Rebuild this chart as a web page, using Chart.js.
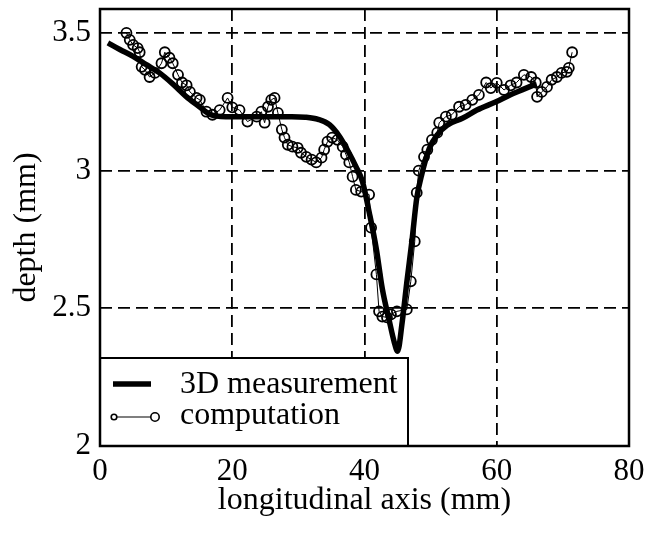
<!DOCTYPE html>
<html>
<head>
<meta charset="utf-8">
<script src="https://cdn.jsdelivr.net/npm/chart.js@4"></script>
<style>
  html, body { margin: 0; padding: 0; background: #fff; }
  #wrap { width: 645px; height: 536px; }
</style>
</head>
<body>
<div id="wrap"><canvas id="c" width="645" height="536"></canvas></div>
<script>
// ---- data ----
const measX = [1.2, 3, 5, 7, 9, 11, 13, 14.6, 16.6, 19, 22, 26, 29, 31, 33, 34.7, 36.2, 37.4, 38.8, 39.7, 40.7, 41.8, 42.7, 43.7, 44.5, 45, 45.7, 46.4, 47.2, 47.9, 48.7, 49.8, 51, 52.5, 54.8, 57, 59.9, 62, 64, 66];
const measY = [3.464, 3.44, 3.415, 3.385, 3.355, 3.315, 3.27, 3.24, 3.205, 3.196, 3.196, 3.196, 3.196, 3.194, 3.186, 3.167, 3.125, 3.076, 3.01, 2.96, 2.85, 2.714, 2.57, 2.46, 2.377, 2.344, 2.45, 2.594, 2.75, 2.9, 2.99, 3.08, 3.13, 3.165, 3.19, 3.22, 3.25, 3.275, 3.295, 3.315];

const compX = [4.0, 4.5, 5.0, 5.7, 6.0, 6.3, 6.8, 7.5, 8.3, 9.3, 9.8, 10.5, 11.0, 11.8, 12.4, 13.1, 13.6, 14.6, 15.1, 16.1, 17.0, 18.1, 19.3, 20.0, 21.1, 22.3, 23.7, 24.4, 24.9, 25.4, 25.9, 26.4, 26.9, 27.5, 27.9, 28.4, 29.1, 29.9, 30.4, 31.2, 32.0, 32.7, 33.5, 33.9, 34.4, 35.1, 35.9, 36.7, 37.2, 37.7, 38.2, 38.7, 39.5, 40.7, 41.0, 41.8, 42.2, 42.7, 43.4, 44.0, 44.9, 46.4, 47.0, 47.6, 47.9, 48.2, 49.0, 49.5, 50.2, 51.0, 51.3, 52.3, 53.2, 54.3, 55.3, 56.3, 57.3, 58.4, 59.1, 60.0, 61.1, 62.1, 63.0, 64.1, 65.2, 65.9, 66.1, 66.8, 67.6, 68.3, 69.1, 69.8, 70.6, 70.9, 71.4];
const compY = [3.50, 3.475, 3.457, 3.445, 3.43, 3.377, 3.366, 3.34, 3.355, 3.39, 3.43, 3.41, 3.39, 3.348, 3.32, 3.31, 3.286, 3.264, 3.257, 3.214, 3.203, 3.22, 3.264, 3.23, 3.22, 3.178, 3.196, 3.214, 3.174, 3.232, 3.257, 3.264, 3.21, 3.149, 3.12, 3.094, 3.087, 3.083, 3.065, 3.05, 3.04, 3.03, 3.047, 3.076, 3.105, 3.12, 3.112, 3.087, 3.058, 3.03, 2.978, 2.93, 2.924, 2.913, 2.793, 2.623, 2.489, 2.47, 2.467, 2.478, 2.489, 2.496, 2.598, 2.743, 2.92, 3.0, 3.05, 3.076, 3.112, 3.138, 3.174, 3.196, 3.203, 3.232, 3.239, 3.257, 3.275, 3.32, 3.30, 3.319, 3.293, 3.31, 3.32, 3.348, 3.34, 3.32, 3.268, 3.286, 3.304, 3.33, 3.34, 3.355, 3.359, 3.373, 3.43];

const xTicks = [0, 20, 40, 60, 80];
const yTicks = [2, 2.5, 3, 3.5];
const seriesNames = ['3D measurement', 'computation'];
const xTitle = 'longitudinal axis (mm)';
const yTitle = 'depth (mm)';

const FONT = '"Liberation Serif", "Times New Roman", serif';

const toPts = (xs, ys) => xs.map((x, i) => ({ x: x, y: ys[i] }));

const framePlugin = {
  id: 'frameAndLegend',
  afterDatasetsDraw(chart) {
    const { ctx, chartArea: a } = chart;
    ctx.save();
    // legend box inside plot (bottom-left)
    const lx = a.left, ly = 358, rx = 408, by = a.bottom;
    ctx.fillStyle = '#fff';
    ctx.fillRect(lx, ly, rx - lx, by - ly);
    ctx.strokeStyle = '#000';
    ctx.lineWidth = 2;
    ctx.strokeRect(lx, ly, rx - lx, by - ly);
    // sample 1: thick line
    ctx.lineWidth = 5.5;
    ctx.beginPath(); ctx.moveTo(113, 384); ctx.lineTo(151, 384); ctx.stroke();
    // sample 2: line with circles
    ctx.lineWidth = 1.2;
    ctx.beginPath(); ctx.moveTo(116, 417); ctx.lineTo(151, 417); ctx.stroke();
    ctx.lineWidth = 1.6;
    ctx.beginPath(); ctx.arc(114, 417, 2.8, 0, Math.PI * 2); ctx.stroke();
    ctx.beginPath(); ctx.arc(155, 417, 4.2, 0, Math.PI * 2); ctx.stroke();
    ctx.fillStyle = '#000';
    ctx.font = '32px ' + FONT;
    ctx.textBaseline = 'middle';
    ctx.textAlign = 'left';
    ctx.fillText(seriesNames[0], 180, 385);
    ctx.fillText(seriesNames[1], 180, 416);
    ctx.restore();
  },
  afterDraw(chart) {
    const { ctx, chartArea: a } = chart;
    ctx.save();
    ctx.strokeStyle = '#000';
    ctx.lineWidth = 2.5;
    ctx.strokeRect(a.left, a.top, a.right - a.left, a.bottom - a.top);
    ctx.restore();
  }
};

new Chart(document.getElementById('c'), {
  type: 'scatter',
  data: {
    datasets: [
      {
        label: seriesNames[1],
        data: toPts(compX, compY),
        showLine: true,
        borderColor: '#000',
        borderWidth: 1,
        pointRadius: 5,
        pointBorderWidth: 1.8,
        pointBorderColor: '#000',
        pointBackgroundColor: 'rgba(0,0,0,0)',
        tension: 0
      },
      {
        label: seriesNames[0],
        data: toPts(measX, measY),
        showLine: true,
        borderColor: '#000',
        borderWidth: 5.5,
        pointRadius: 0,
        cubicInterpolationMode: 'monotone',
        borderCapStyle: 'butt'
      }
    ]
  },
  options: {
    responsive: false,
    animation: false,
    devicePixelRatio: 1,
    layout: { padding: { top: 9, right: 16, left: 0, bottom: 0 } },
    plugins: { legend: { display: false }, tooltip: { enabled: false } },
    scales: {
      x: {
        type: 'linear',
        min: xTicks[0],
        max: xTicks[xTicks.length - 1],
        afterBuildTicks: s => { s.ticks = xTicks.map(v => ({ value: v })); },
        afterFit: s => { s.height = 90; s.paddingLeft = 0; s.paddingRight = 0; },
        ticks: { color: '#000', font: { family: FONT, size: 31 }, padding: 7, maxRotation: 0, callback: v => String(v) },
        grid: { color: '#000', lineWidth: 1.8, drawTicks: false },
        border: { display: false, dash: [12, 6] },
        title: { display: true, text: xTitle, color: '#000', font: { family: FONT, size: 32 }, padding: { top: 0, bottom: 16 } }
      },
      y: {
        type: 'linear',
        min: 2,
        max: 3.587,
        afterBuildTicks: s => { s.ticks = yTicks.map(v => ({ value: v })); },
        afterFit: s => { s.width = 100; s.paddingTop = 0; s.paddingBottom = 0; },
        ticks: { color: '#000', font: { family: FONT, size: 31 }, padding: 9, callback: v => String(v) },
        grid: { color: '#000', lineWidth: 1.8, drawTicks: false },
        border: { display: false, dash: [12, 6] },
        title: { display: true, text: yTitle, color: '#000', font: { family: FONT, size: 32 }, padding: { top: 7, bottom: 0 } }
      }
    }
  },
  plugins: [framePlugin]
});
</script>
</body>
</html>
